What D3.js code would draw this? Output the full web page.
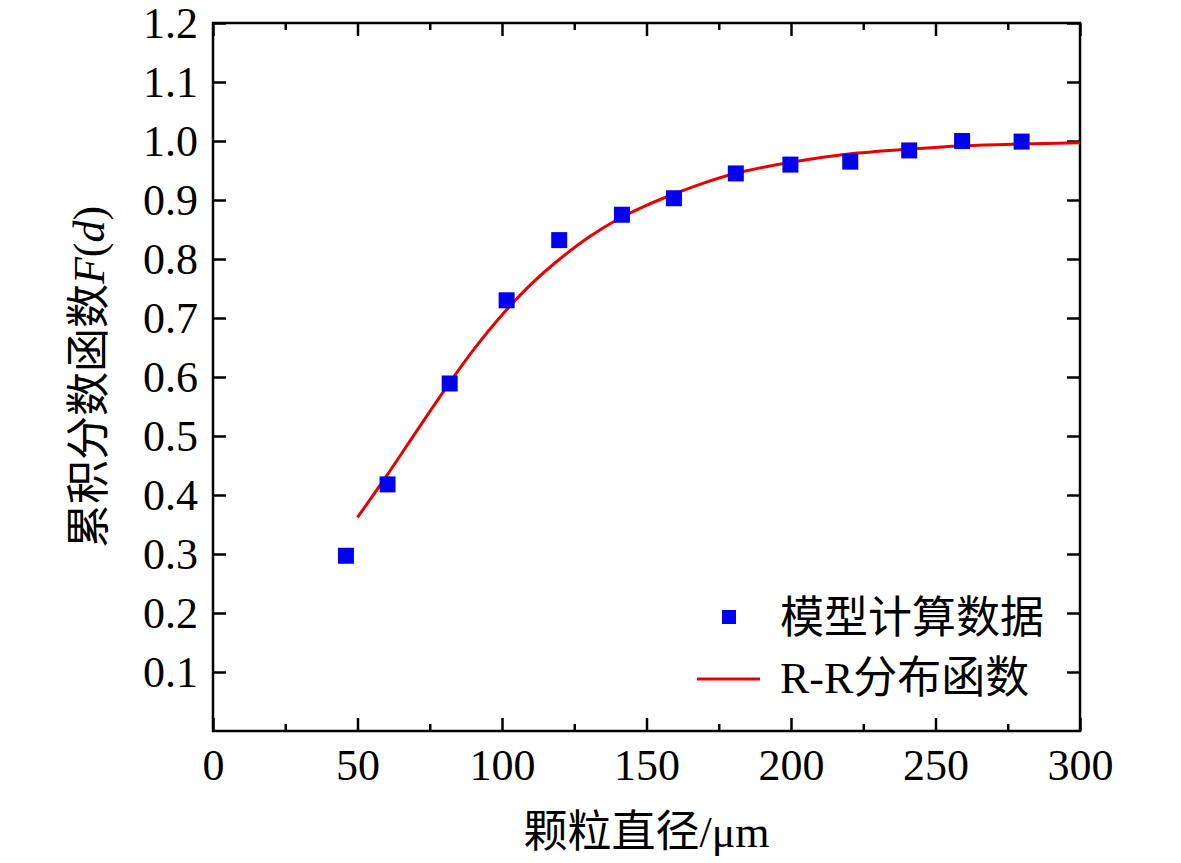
<!DOCTYPE html>
<html>
<head>
<meta charset="utf-8">
<script src="https://cdn.jsdelivr.net/npm/d3@7"></script>
<style>
  body { margin: 0; background: #fff; }
  text { font-family: "Liberation Serif", "Noto Sans CJK SC", serif; fill: #000; }
</style>
</head>
<body>
<div id="chart"></div>
<script>
// Data
const diameters = [46, 60.4, 81.9, 101.6, 119.8, 141.5, 159.5, 180.9, 199.8, 220.5, 240.9, 259.2, 279.8];
const fractions = [0.297, 0.418, 0.589, 0.730, 0.832, 0.875, 0.903, 0.945, 0.960, 0.965, 0.984, 1.000, 0.999];

const fitD = [50, 60, 70, 80, 90, 100, 110, 120, 130, 140, 150, 160, 170, 180, 190, 200, 220, 240, 260, 280, 300];
const fitF = [0.362, 0.432, 0.505, 0.577, 0.645, 0.705, 0.757, 0.800, 0.837, 0.867, 0.891, 0.911, 0.929, 0.944, 0.955, 0.964, 0.978, 0.986, 0.992, 0.995, 0.997];

const xTicks = [0, 50, 100, 150, 200, 250, 300];
const xMinor = [25, 75, 125, 175, 225, 275];
const yTicks = [0.1, 0.2, 0.3, 0.4, 0.5, 0.6, 0.7, 0.8, 0.9, 1.0, 1.1, 1.2];

const legendLabels = ["模型计算数据", "R-R分布函数"];

// Layout
const [width, height] = [1181, 863];
const margin = { top: 23, right: 101, bottom: 132, left: 213 };
const w = width - margin.left - margin.right;
const h = height - margin.top - margin.bottom;
const fontSize = 44;
const blue = "#0000f0";
const red = "#e60000";

const svg = d3.select("#chart")
  .append("svg")
  .attr("width", width)
  .attr("height", height);

const g = svg.append("g")
  .attr("transform", "translate(" + margin.left + "," + margin.top + ")");

const xScale = d3.scaleLinear().domain([0, 300]).range([0, w]);
const yScale = d3.scaleLinear().domain([0, 1.2]).range([h, 0]);

const styleAxis = (sel) => {
  sel.select(".domain").remove();
  sel.selectAll("line").attr("stroke", "#000").attr("stroke-width", 2.5);
  sel.selectAll("text").style("font-size", fontSize + "px").attr("fill", "#000");
};

// bottom axis
g.append("g")
  .attr("transform", "translate(0," + h + ")")
  .call(d3.axisBottom(xScale).tickValues(xTicks).tickSize(-13).tickPadding(18).tickFormat(d3.format("d")))
  .call(styleAxis);
g.append("g")
  .attr("transform", "translate(0," + h + ")")
  .call(d3.axisBottom(xScale).tickValues(xMinor).tickSize(-7).tickFormat(""))
  .call(styleAxis);

// top axis
g.append("g")
  .call(d3.axisTop(xScale).tickValues(xTicks).tickSize(-13).tickFormat(""))
  .call(styleAxis);
g.append("g")
  .call(d3.axisTop(xScale).tickValues(xMinor).tickSize(-7).tickFormat(""))
  .call(styleAxis);

// left axis
g.append("g")
  .call(d3.axisLeft(yScale).tickValues(yTicks).tickSize(-13).tickPadding(15).tickFormat(d3.format(".1f")))
  .call(styleAxis);

// right axis
g.append("g")
  .attr("transform", "translate(" + w + ",0)")
  .call(d3.axisRight(yScale).tickValues(yTicks).tickSize(-13).tickFormat(""))
  .call(styleAxis);

// frame
g.append("rect")
  .attr("x", 0).attr("y", 0)
  .attr("width", w).attr("height", h)
  .attr("fill", "none")
  .attr("stroke", "#000")
  .attr("stroke-width", 2.5);

// fitted curve
const line = d3.line()
  .x((d, i) => xScale(fitD[i]))
  .y(d => yScale(d))
  .curve(d3.curveCatmullRom);

g.append("path")
  .datum(fitF)
  .attr("d", line)
  .attr("fill", "none")
  .attr("stroke", red)
  .attr("stroke-width", 3);

// data squares
const sq = 16;
g.selectAll("rect.pt")
  .data(fractions)
  .enter()
  .append("rect")
  .attr("class", "pt")
  .attr("x", (d, i) => xScale(diameters[i]) - sq / 2)
  .attr("y", d => yScale(d) - sq / 2)
  .attr("width", sq)
  .attr("height", sq)
  .attr("fill", blue);

// legend
const legend = g.append("g").attr("transform", "translate(484,594)");
legend.append("rect")
  .attr("x", 32 - 7).attr("y", -7)
  .attr("width", 14).attr("height", 14)
  .attr("fill", blue);
legend.append("line")
  .attr("x1", 0).attr("x2", 63)
  .attr("y1", 62).attr("y2", 62)
  .attr("stroke", red)
  .attr("stroke-width", 3);
legend.selectAll("text")
  .data(legendLabels)
  .enter()
  .append("text")
  .attr("x", 83)
  .attr("y", (d, i) => 16 + i * 60)
  .style("font-size", fontSize + "px")
  .text(d => d);

// axis titles
svg.append("text")
  .attr("x", margin.left + w / 2)
  .attr("y", 847)
  .attr("text-anchor", "middle")
  .style("font-size", fontSize + "px")
  .text("颗粒直径/μm");

const yTitle = svg.append("text")
  .attr("transform", "translate(104," + (margin.top + h / 2) + ") rotate(-90)")
  .attr("text-anchor", "middle")
  .style("font-size", fontSize + "px");
yTitle.append("tspan").text("累积分数函数");
yTitle.append("tspan").style("font-style", "italic").text("F");
yTitle.append("tspan").text("(");
yTitle.append("tspan").style("font-style", "italic").text("d");
yTitle.append("tspan").text(")");
</script>
</body>
</html>
